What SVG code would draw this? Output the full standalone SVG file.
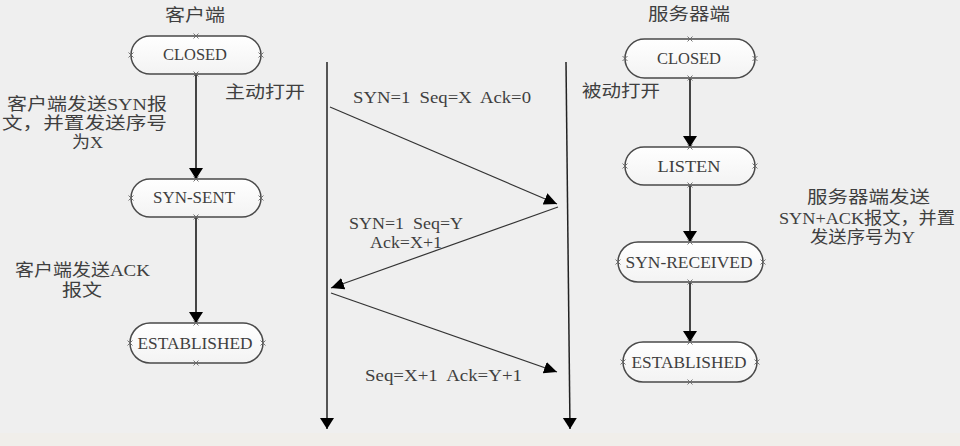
<svg xmlns="http://www.w3.org/2000/svg" xmlns:xlink="http://www.w3.org/1999/xlink" width="960" height="446" viewBox="0 0 960 446">
<style>
.bg{fill:#efefef}
.pill{fill:url(#pg);stroke:#4a4a4a;stroke-width:1.5}
.t{font-family:"Liberation Serif","Noto Sans CJK SC",serif;font-size:17px;fill:#3f3f3f}
.c{text-anchor:middle}
.st{stroke:#1a1a1a;stroke-width:1.6;fill:none}
.msg{stroke:#333;stroke-width:1.2;fill:none}
.life{stroke:#222;stroke-width:1.5;fill:none}
.cp{stroke:#666;stroke-width:0.9;fill:none}
</style>
<defs>
<linearGradient id="pg" x1="0" y1="0" x2="0" y2="1">
<stop offset="0" stop-color="#ffffff"/>
<stop offset="1" stop-color="#f3f3f3"/>
</linearGradient>
<marker id="ah" markerUnits="userSpaceOnUse" markerWidth="16" markerHeight="16" refX="11" refY="7" orient="auto">
<path d="M0,0 L11,7 L0,14 z" fill="#000"/>
</marker>
<marker id="am" markerUnits="userSpaceOnUse" markerWidth="16" markerHeight="16" refX="13" refY="6" orient="auto">
<path d="M0,0 L13,6 L0,12 z" fill="#000"/>
</marker>
<symbol id="x" overflow="visible">
<path class="cp" d="M-2.5,-2.5 L2.5,2.5 M-2.5,2.5 L2.5,-2.5"/>
</symbol>
</defs>
<rect class="bg" x="0" y="0" width="960" height="446"/>
<rect x="0" y="433" width="960" height="13" fill="#f0eeea"/>

<g id="connectors">
<line class="life" x1="327" y1="62" x2="327" y2="429" marker-end="url(#ah)"/>
<line class="life" x1="566" y1="62" x2="570" y2="429" marker-end="url(#ah)"/>
<line class="st" x1="196" y1="74" x2="196" y2="179" marker-end="url(#ah)"/>
<line class="st" x1="196" y1="217" x2="196" y2="323" marker-end="url(#ah)"/>
<line class="st" x1="690" y1="78" x2="690" y2="147" marker-end="url(#ah)"/>
<line class="st" x1="690" y1="185" x2="690" y2="242" marker-end="url(#ah)"/>
<line class="st" x1="690" y1="282" x2="690" y2="342" marker-end="url(#ah)"/>
<line class="msg" x1="330" y1="107" x2="557" y2="204" marker-end="url(#am)"/>
<line class="msg" x1="558" y1="207" x2="331" y2="288" marker-end="url(#am)"/>
<line class="msg" x1="331" y1="293" x2="557" y2="372" marker-end="url(#am)"/>
</g>

<g id="labels">
<text class="t c" x="195" y="21" textLength="60" lengthAdjust="spacingAndGlyphs">客户端</text>
<text class="t c" x="689" y="20" textLength="82" lengthAdjust="spacingAndGlyphs">服务器端</text>
<text class="t" x="225" y="98" textLength="80" lengthAdjust="spacingAndGlyphs">主动打开</text>
<text class="t" x="582" y="97" textLength="78" lengthAdjust="spacingAndGlyphs">被动打开</text>
<text class="t" x="7" y="110" textLength="160" lengthAdjust="spacingAndGlyphs">客户端发送SYN报</text>
<text class="t" x="2" y="129" textLength="165" lengthAdjust="spacingAndGlyphs">文，并置发送序号</text>
<text class="t" x="72" y="148" textLength="31" lengthAdjust="spacingAndGlyphs">为X</text>
<text class="t" x="15" y="276" textLength="135" lengthAdjust="spacingAndGlyphs">客户端发送ACK</text>
<text class="t" x="62" y="296" textLength="40" lengthAdjust="spacingAndGlyphs">报文</text>
<text class="t" x="807" y="203" textLength="123" lengthAdjust="spacingAndGlyphs">服务器端发送</text>
<text class="t" x="779" y="224" textLength="176" lengthAdjust="spacingAndGlyphs">SYN+ACK报文，并置</text>
<text class="t" x="810" y="243" textLength="105" lengthAdjust="spacingAndGlyphs">发送序号为Y</text>
<text class="t" x="353" y="103" textLength="178" lengthAdjust="spacingAndGlyphs" xml:space="preserve">SYN=1  Seq=X  Ack=0</text>
<text class="t" x="349" y="229" textLength="114" lengthAdjust="spacingAndGlyphs" xml:space="preserve">SYN=1  Seq=Y</text>
<text class="t" x="370" y="248" textLength="72" lengthAdjust="spacingAndGlyphs">Ack=X+1</text>
<text class="t" x="365" y="381" textLength="157" lengthAdjust="spacingAndGlyphs" xml:space="preserve">Seq=X+1  Ack=Y+1</text>
</g>

<g id="c-closed">
<rect class="pill" x="131" y="36" width="130" height="38" rx="19"/>
<use xlink:href="#x" x="196" y="36"/><use xlink:href="#x" x="196" y="74"/><use xlink:href="#x" x="131" y="55"/><use xlink:href="#x" x="261" y="55"/>
<text class="t c" x="195" y="60" textLength="64" lengthAdjust="spacingAndGlyphs">CLOSED</text>
</g>
<g id="c-synsent">
<rect class="pill" x="131" y="179" width="130" height="38" rx="19"/>
<use xlink:href="#x" x="196" y="179"/><use xlink:href="#x" x="196" y="217"/><use xlink:href="#x" x="131" y="198"/><use xlink:href="#x" x="261" y="198"/>
<text class="t c" x="194" y="203" textLength="82" lengthAdjust="spacingAndGlyphs">SYN-SENT</text>
</g>
<g id="c-established">
<rect class="pill" x="130" y="323" width="133" height="40" rx="20"/>
<use xlink:href="#x" x="196" y="323"/><use xlink:href="#x" x="196" y="363"/><use xlink:href="#x" x="130" y="343"/><use xlink:href="#x" x="263" y="343"/>
<text class="t c" x="195" y="349" textLength="115" lengthAdjust="spacingAndGlyphs">ESTABLISHED</text>
</g>
<g id="s-closed">
<rect class="pill" x="625" y="39" width="130" height="39" rx="19.5"/>
<use xlink:href="#x" x="690" y="39"/><use xlink:href="#x" x="690" y="78"/><use xlink:href="#x" x="625" y="58.5"/><use xlink:href="#x" x="755" y="58.5"/>
<text class="t c" x="689" y="64" textLength="64" lengthAdjust="spacingAndGlyphs">CLOSED</text>
</g>
<g id="s-listen">
<rect class="pill" x="625" y="147" width="130" height="38" rx="19"/>
<use xlink:href="#x" x="690" y="147"/><use xlink:href="#x" x="690" y="185"/><use xlink:href="#x" x="625" y="166"/><use xlink:href="#x" x="755" y="166"/>
<text class="t c" x="689" y="172" textLength="63" lengthAdjust="spacingAndGlyphs">LISTEN</text>
</g>
<g id="s-synreceived">
<rect class="pill" x="618" y="242" width="145" height="40" rx="20"/>
<use xlink:href="#x" x="690" y="242"/><use xlink:href="#x" x="690" y="282"/><use xlink:href="#x" x="618" y="262"/><use xlink:href="#x" x="763" y="262"/>
<text class="t c" x="689" y="268" textLength="127" lengthAdjust="spacingAndGlyphs">SYN-RECEIVED</text>
</g>
<g id="s-established">
<rect class="pill" x="623" y="342" width="134" height="40" rx="20"/>
<use xlink:href="#x" x="690" y="342"/><use xlink:href="#x" x="690" y="382"/><use xlink:href="#x" x="623" y="362"/><use xlink:href="#x" x="757" y="362"/>
<text class="t c" x="689" y="368" textLength="115" lengthAdjust="spacingAndGlyphs">ESTABLISHED</text>
</g>
</svg>
